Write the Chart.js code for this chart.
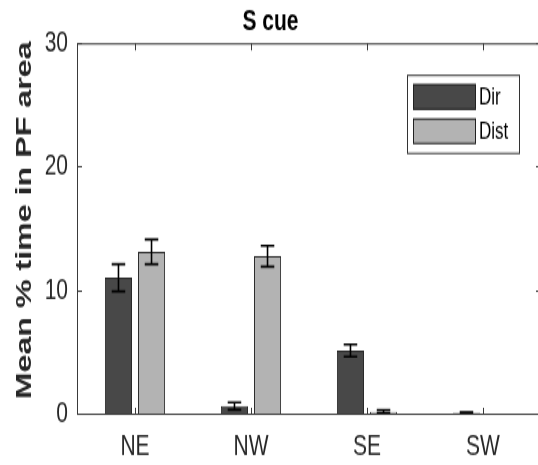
<!DOCTYPE html>
<html>
<head>
<meta charset="utf-8">
<script src="https://cdn.jsdelivr.net/npm/chart.js@4.4.1/dist/chart.umd.min.js"></script>
<style>
  html { overflow: hidden; }
  body { margin: 0; padding: 0; background: #fff; width: 538px; height: 465px; }
  /* the reference is a vertically stretched MATLAB figure */
  #wrap { width: 542px; height: 325px; transform: scaleY(1.4308); transform-origin: 0 0; }
</style>
</head>
<body>
<div id="wrap"><canvas id="cueChart" width="542" height="325"></canvas></div>
<script>
const categories = ['NE', 'NW', 'SE', 'SW'];
const dirValues = [11.0, 0.6, 5.1, 0.06];
const dirErrors = [1.1, 0.3, 0.5, 0.05];
const distValues = [13.1, 12.75, 0.15, 0];
const distErrors = [1.0, 0.85, 0.12, 0];
const yTicks = [0, 10, 20, 30];
const yLabel = 'Mean % time in PF area';

Chart.defaults.font.family = "'Liberation Sans', Arial, sans-serif";
Chart.defaults.color = '#262626';

const errors = [dirErrors, distErrors];

const errorBars = {
    id: 'errorBars',
    afterDatasetsDraw(chart) {
        const ctx = chart.ctx;
        const y = chart.scales.y;
        ctx.save();
        ctx.strokeStyle = '#000';
        ctx.lineWidth = 1.6;
        chart.data.datasets.forEach((ds, i) => {
            const meta = chart.getDatasetMeta(i);
            meta.data.forEach((bar, j) => {
                const err = errors[i][j];
                if (!err) return;
                const v = ds.data[j];
                const top = y.getPixelForValue(v + err);
                const bot = y.getPixelForValue(Math.max(0, v - err));
                const half = bar.width / 4;
                ctx.beginPath();
                ctx.moveTo(bar.x, top); ctx.lineTo(bar.x, bot);
                ctx.moveTo(bar.x - half, top); ctx.lineTo(bar.x + half, top);
                ctx.moveTo(bar.x - half, bot); ctx.lineTo(bar.x + half, bot);
                ctx.stroke();
            });
        });
        ctx.restore();
    }
};

// box round the axes with inward ticks, the y label, and the legend inside the plot
const matlabBox = {
    id: 'matlabBox',
    afterDraw(chart) {
        const ctx = chart.ctx;
        const a = chart.chartArea;
        const xs = chart.scales.x, ys = chart.scales.y;
        ctx.save();
        ctx.strokeStyle = '#3a3a3a';
        ctx.lineWidth = 1;
        ctx.strokeRect(a.left + 0.5, a.top + 0.5, a.right - a.left, a.bottom - a.top);
        ctx.beginPath();
        categories.forEach((c, i) => {
            const px = Math.round(xs.getPixelForValue(i)) + 0.5;
            ctx.moveTo(px, a.top); ctx.lineTo(px, a.top + 5);
            ctx.moveTo(px, a.bottom); ctx.lineTo(px, a.bottom - 4);
        });
        yTicks.forEach(v => {
            const py = Math.round(ys.getPixelForValue(v)) + 0.5;
            ctx.moveTo(a.left, py); ctx.lineTo(a.left + 5, py);
            ctx.moveTo(a.right, py); ctx.lineTo(a.right - 5, py);
        });
        ctx.stroke();

        // y axis label, a little above the axis middle as in the figure
        ctx.save();
        ctx.translate(25, 154);
        ctx.rotate(-Math.PI / 2);
        ctx.font = "bold 22.5px 'Liberation Sans', Arial, sans-serif";
        ctx.fillStyle = '#262626';
        ctx.textAlign = 'center';
        ctx.textBaseline = 'middle';
        ctx.fillText(yLabel, 0, 0);
        ctx.restore();

        // legend
        const bw = 112, bh = 54.5;
        const bx = a.right - 22 - bw, by = a.top + 22;
        ctx.fillStyle = '#fff';
        ctx.fillRect(bx, by, bw, bh);
        ctx.strokeStyle = '#333';
        ctx.strokeRect(bx + 0.5, by + 0.5, bw, bh);
        ctx.font = "17px 'Liberation Sans', Arial, sans-serif";
        ctx.textBaseline = 'middle';
        chart.data.datasets.forEach((ds, i) => {
            const sy = by + 6.5 + i * 24;
            ctx.fillStyle = ds.backgroundColor;
            ctx.fillRect(bx + 6, sy, 63, 18);
            ctx.strokeStyle = '#222';
            ctx.strokeRect(bx + 6.5, sy + 0.5, 62, 17);
            ctx.fillStyle = '#000';
            ctx.fillText(ds.label, bx + 72, sy + 9.5);
        });
        ctx.restore();
    }
};

new Chart(document.getElementById('cueChart'), {
    type: 'bar',
    data: {
        labels: categories,
        datasets: [{
            label: 'Dir',
            data: dirValues,
            backgroundColor: '#484848',
            borderColor: '#2a2a2a',
            borderWidth: 1,
            categoryPercentage: 0.57,
            barPercentage: 0.82
        }, {
            label: 'Dist',
            data: distValues,
            backgroundColor: '#b3b3b3',
            borderColor: '#2a2a2a',
            borderWidth: 1,
            categoryPercentage: 0.57,
            barPercentage: 0.82
        }]
    },
    options: {
        responsive: false,
        animation: false,
        layout: { padding: { left: 0, right: 1, top: 0, bottom: 0 } },
        plugins: {
            legend: { display: false },
            tooltip: { enabled: false },
            title: {
                display: true,
                text: 'S cue',
                color: '#000',
                font: { size: 21, weight: 'bold' },
                padding: { top: 3, bottom: 2 }
            }
        },
        scales: {
            x: {
                afterFit: axis => { axis.height = 36; },
                grid: { display: false, drawTicks: false },
                border: { display: false },
                ticks: { padding: 11, color: '#262626', font: { size: 21 } }
            },
            y: {
                min: 0,
                max: 30,
                afterBuildTicks: axis => { axis.ticks = yTicks.map(v => ({ value: v })); },
                afterFit: axis => { axis.width = 77; },
                grid: { display: false, drawTicks: false },
                border: { display: false },
                ticks: { padding: 9, color: '#262626', font: { size: 21 } }
            }
        }
    },
    plugins: [errorBars, matlabBox]
});
</script>
</body>
</html>
